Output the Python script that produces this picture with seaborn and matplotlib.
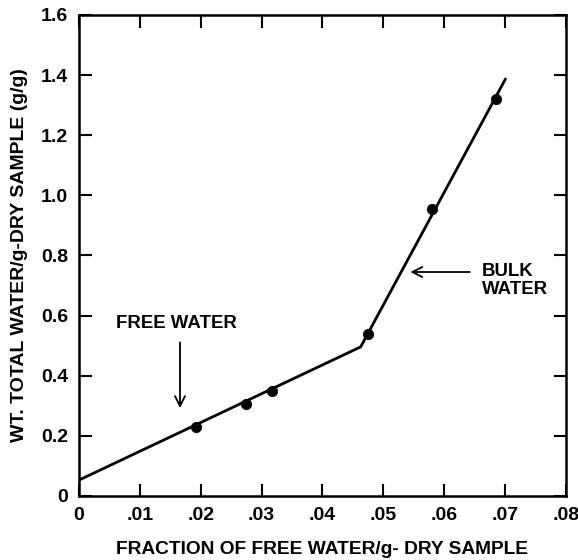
import matplotlib
matplotlib.use("Agg")
import matplotlib.pyplot as plt
import seaborn as sns
import pandas as pd

# Measured points
free_frac = [0.0192, 0.0274, 0.0317, 0.0475, 0.0580, 0.0685]
total_water = [0.23, 0.306, 0.349, 0.539, 0.955, 1.32]

# Two fitted straight segments (free water and bulk water regimes)
fit_x = [0.0, 0.0463, 0.0701]
fit_y = [0.053, 0.496, 1.387]

x_ticks = [0, 0.01, 0.02, 0.03, 0.04, 0.05, 0.06, 0.07, 0.08]
x_tick_labels = ["0", ".01", ".02", ".03", ".04", ".05", ".06", ".07", ".08"]
y_ticks = [0, 0.2, 0.4, 0.6, 0.8, 1.0, 1.2, 1.4, 1.6]
y_tick_labels = ["0", "0.2", "0.4", "0.6", "0.8", "1.0", "1.2", "1.4", "1.6"]

sns.set_theme(style="ticks")
plt.rcParams["font.family"] = ["Liberation Sans", "DejaVu Sans"]
plt.rcParams["text.color"] = "black"
plt.rcParams["axes.labelcolor"] = "black"

fig = plt.figure(figsize=(5.78, 5.6), dpi=100)
ax = fig.add_axes([0.1367, 0.1143, 0.842, 0.859])

pts = pd.DataFrame({"x": free_frac, "y": total_water})
fit = pd.DataFrame({"x": fit_x, "y": fit_y})

sns.lineplot(data=fit, x="x", y="y", ax=ax, color="black", linewidth=2.0,
             sort=False, estimator=None, solid_joinstyle="miter")
sns.scatterplot(data=pts, x="x", y="y", ax=ax, color="black", s=55,
                edgecolor="black", zorder=5)

ax.set_xlim(0, 0.08)
ax.set_ylim(0, 1.6)
ax.set_xticks(x_ticks)
ax.set_xticklabels(x_tick_labels)
ax.set_yticks(y_ticks)
ax.set_yticklabels(y_tick_labels)
ax.tick_params(direction="in", length=9, width=1.5, top=True, right=True,
               labelsize=14, pad=8, colors="black")
for lab in ax.get_xticklabels() + ax.get_yticklabels():
    lab.set_fontweight("bold")
for sp in ax.spines.values():
    sp.set_linewidth(1.8)
    sp.set_color("black")

ax.set_xlabel("FRACTION OF FREE WATER/g- DRY SAMPLE", fontsize=13.8,
              fontweight="bold", labelpad=12)
ax.set_ylabel("WT. TOTAL WATER/g-DRY SAMPLE (g/g)", fontsize=14,
              fontweight="bold", labelpad=9)

# Annotations
ax.text(0.0160, 0.575, "FREE WATER", ha="center", va="center",
        fontsize=13.4, fontweight="bold")
ax.annotate("", xy=(0.0166, 0.283), xytext=(0.0166, 0.52),
            arrowprops=dict(arrowstyle="->", color="black", lw=1.3,
                            mutation_scale=18))
ax.annotate("", xy=(0.054, 0.745), xytext=(0.0647, 0.745),
            arrowprops=dict(arrowstyle="->", color="black", lw=1.3,
                            mutation_scale=18))
ax.text(0.0662, 0.775, "BULK\nWATER", ha="left", va="top",
        fontsize=13.4, fontweight="bold", linespacing=1.1)

fig.savefig("out.png", dpi=100)
